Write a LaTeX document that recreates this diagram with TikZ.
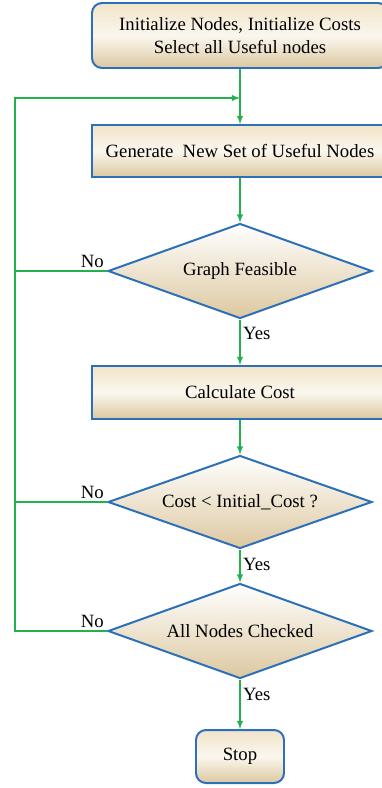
\documentclass[tikz,border=0pt]{standalone}
\usepackage{fontspec}
\setmainfont{Liberation Serif}
\usetikzlibrary{shapes.geometric}
\definecolor{boxblue}{HTML}{2B70B8}
\definecolor{flowgreen}{HTML}{22B14C}
\definecolor{tan}{HTML}{DCC8A0}
\definecolor{lighttan}{HTML}{F1E4C8}
\tikzset{
  procbox/.style={draw=boxblue, line width=1.7pt, rectangle, top color=lighttan, bottom color=tan, middle color=white!70!lighttan, align=center, font=\fontsize{16}{19.5}\selectfont},
  termbox/.style={procbox, rounded corners=0.3cm},
  decision/.style={draw=boxblue, line width=1.7pt, diamond, aspect=2.78, inner sep=0pt, top color=white, bottom color=tan, font=\fontsize{16}{19.5}\selectfont, minimum width=7.92cm, minimum height=2.85cm},
  flow/.style={draw=flowgreen, line width=1.4pt},
  lbl/.style={font=\fontsize{16}{19.5}\selectfont, inner sep=2pt}
}
\begin{document}
\begin{tikzpicture}
\useasboundingbox (0,0) rectangle (11.43,-23.64);
\node[termbox, minimum width=8.88cm, minimum height=1.95cm] (init) at (7.2,-1.065) {Initialize Nodes, Initialize Costs\\Select all Useful nodes};
\node[procbox, minimum width=8.88cm, minimum height=1.56cm] (gen) at (7.2,-4.53) {Generate~ New Set of Useful Nodes};
\node[decision] (feas) at (7.2,-8.13) {Graph Feasible};
\node[procbox, minimum width=8.88cm, minimum height=1.59cm] (calc) at (7.2,-11.775) {Calculate Cost};
\node[decision, minimum height=2.79cm] (cmp) at (7.2,-15.06) {Cost < Initial\_Cost ?};
\node[decision] (chk) at (7.2,-18.93) {All Nodes Checked};
\node[termbox, minimum width=2.64cm, minimum height=1.59cm] (stop) at (7.2,-22.695) {Stop};
\coordinate (lp) at (0.45,-2.94);
\coordinate (entry) at (7.2,-2.94);
% main flow
\draw[flow,-latex] (init) -- (gen);
\draw[flow,-latex] (gen) -- (feas);
\draw[flow,-latex] (feas) -- node[lbl,right,pos=0.3] {Yes} (calc);
\draw[flow,-latex] (calc) -- (cmp);
\draw[flow,-latex] (cmp) -- node[lbl,right,pos=0.45] {Yes} (chk);
\draw[flow,-latex] (chk) -- node[lbl,right,pos=0.3] {Yes} (stop);
% back loop
\draw[flow] (feas.west) node[lbl,above left] {No} -- (feas.west -| lp);
\draw[flow] (cmp.west) node[lbl,above left] {No} -- (cmp.west -| lp);
\draw[flow,-latex] (chk.west) node[lbl,above left] {No} -- (chk.west -| lp) -- (lp) -- (entry);
\end{tikzpicture}
\end{document}
